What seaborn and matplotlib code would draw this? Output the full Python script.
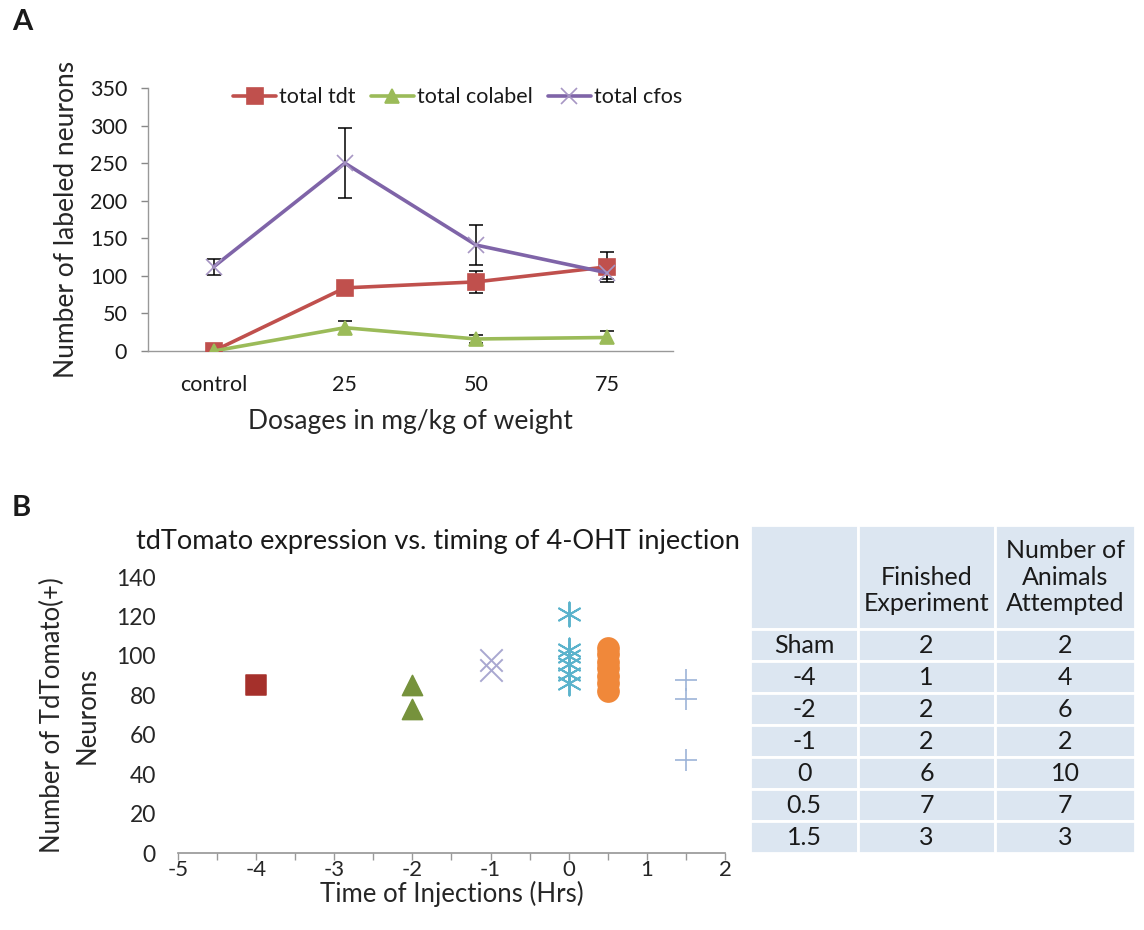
import matplotlib
matplotlib.use("Agg")
import matplotlib.pyplot as plt
import seaborn as sns
import numpy as np
import pandas as pd

# ---------------- Panel A data ----------------
dosages = ["control", "25", "50", "75"]
total_tdt = [0, 84, 92, 112]
total_tdt_err = [2, 5, 15, 20]
total_colabel = [0, 31, 16, 18]
total_colabel_err = [1, 9, 5, 8]
total_cfos = [112, 250, 141, 104]
total_cfos_err = [11, 47, 27, 8]

# ---------------- Panel B data ----------------
inj_times = [-4, -2, -1, 0, 0.5, 1.5]
counts_m4 = [85]
counts_m2 = [85, 73]
counts_m1 = [98, 93]
counts_0 = [121, 103, 100, 96, 91, 86]
counts_05 = [104, 101, 97, 94, 90, 86, 82]
counts_15 = [88, 78, 47]

# ---------------- Table data ----------------
table_header = ["", "\nFinished\nExperiment", "Number of\nAnimals\nAttempted"]
table_rows = ["Sham", "-4", "-2", "-1", "0", "0.5", "1.5"]
finished = [2, 1, 2, 2, 6, 7, 3]
attempted = [2, 4, 6, 2, 10, 7, 3]

sns.set_theme(style="white")
plt.rcParams['font.family'] = ['Lato', 'DejaVu Sans']
plt.rcParams['text.color'] = '#1a1a1a'
plt.rcParams['axes.unicode_minus'] = False

W, H = 1144, 930
fig = plt.figure(figsize=(W / 100, H / 100), dpi=100)

def fx(px):
    return px / W

def fy(py):
    return 1 - py / H

# ================= Panel A =================
axA = fig.add_axes([fx(148), fy(351), fx(673) - fx(148), fy(88) - fy(351)])
xpos = np.arange(len(dosages))
dfA = pd.DataFrame({
    "x": np.tile(xpos, 3),
    "value": total_tdt + total_colabel + total_cfos,
    "err": total_tdt_err + total_colabel_err + total_cfos_err,
    "series": ["total tdt"] * 4 + ["total colabel"] * 4 + ["total cfos"] * 4,
})
palA = {"total tdt": "#C0504D", "total colabel": "#9BBB59", "total cfos": "#7F64A8"}
markA = {"total tdt": "s", "total colabel": "^", "total cfos": "x"}
msA = {"total tdt": 11, "total colabel": 10, "total cfos": 11}
for name in ["total tdt", "total colabel", "total cfos"]:
    sub = dfA[dfA.series == name]
    axA.errorbar(sub.x, sub.value, yerr=sub.err, fmt='none', ecolor='black',
                 elinewidth=1.1, capsize=5, capthick=1.1, zorder=2)
for name in ["total tdt", "total colabel", "total cfos"]:
    sub = dfA[dfA.series == name]
    sns.lineplot(data=sub, x="x", y="value", ax=axA, color=palA[name],
                 marker=markA[name], markersize=msA[name], linewidth=2.6,
                 markeredgecolor=palA[name] if name != "total cfos" else "#A796C4",
                 markeredgewidth=1.2, label=name, zorder=3)

axA.set_xlim(-0.5, 3.5)
axA.set_ylim(0, 350)
axA.set_yticks(np.arange(0, 351, 50))
axA.set_xticks(xpos)
axA.set_xticklabels(dosages)
axA.set_xticks(np.arange(-0.5, 3.6, 1), minor=True)
axA.tick_params(axis='x', which='major', length=0, labelsize=15.5, pad=17, colors='#1a1a1a')
axA.tick_params(axis='x', which='minor', length=6, width=1, color='#888888', direction='out')
axA.tick_params(axis='y', which='major', length=5, width=1, color='#888888', left=True,
                labelsize=15.5, pad=10, labelcolor='#1a1a1a')
for s in ['top', 'right']:
    axA.spines[s].set_visible(False)
for s in ['left', 'bottom']:
    axA.spines[s].set_color('#999999')
    axA.spines[s].set_linewidth(1)
axA.set_xlabel("Dosages in mg/kg of weight", fontsize=19, labelpad=10)
axA.set_ylabel("Number of labeled neurons", fontsize=19, labelpad=8)
axA.legend(loc='center', bbox_to_anchor=(0.59, 0.965), ncol=3, frameon=False,
           fontsize=15.5, handlelength=2.0, columnspacing=0.7, handletextpad=0.15,
           borderaxespad=0)

fig.text(fx(12), fy(22), "A", fontsize=21, fontweight='bold', va='center', ha='left')
fig.text(fx(12), fy(508), "B", fontsize=21, fontweight='bold', va='center', ha='left')

# ================= Panel B =================
axB = fig.add_axes([fx(178), fy(853), fx(725) - fx(178), fy(577) - fy(853)])
groups = [counts_m4, counts_m2, counts_m1, counts_0, counts_05, counts_15]
dfB = pd.DataFrame({
    "time": np.concatenate([[t] * len(g) for t, g in zip(inj_times, groups)]),
    "count": np.concatenate(groups),
})
stylesB = {
    -4: dict(marker='s', color='#A5302B', s=190),
    -2: dict(marker='^', color='#76923C', s=210),
    -1: dict(marker='x', color='#A9A8D0', s=260, linewidths=1.4),
    0: dict(marker=(6, 2, 0), color='#5BB3CC', s=300, linewidths=1.4),
    0.5: dict(marker='o', color='#F0883A', s=230),
    1.5: dict(marker='+', color='#9DB4D8', s=260, linewidths=1.2),
}
for t in inj_times:
    sub = dfB[dfB.time == t]
    st = dict(stylesB[t])
    line_art = st['marker'] in ('x', '+') or isinstance(st['marker'], tuple)
    sns.scatterplot(data=sub, x="time", y="count", ax=axB,
                    edgecolor=None if line_art else st['color'],
                    legend=False, zorder=3, **st)

axB.set_xlim(-5, 2)
axB.set_ylim(0, 140)
axB.set_yticks(np.arange(0, 141, 20))
axB.set_xticks(np.arange(-5, 2.1, 1))
axB.set_xticks(np.arange(-5, 2.1, 0.5), minor=True)
axB.tick_params(axis='x', which='both', length=5, width=1, color='#999999', direction='out',
                labelsize=16, pad=0, bottom=True)
axB.tick_params(axis='y', length=0, labelsize=16.5, pad=16)
for s in ['top', 'right', 'left']:
    axB.spines[s].set_visible(False)
axB.spines['bottom'].set_color('#999999')
axB.set_xlabel("Time of Injections (Hrs)", fontsize=18.5, labelpad=1)
axB.set_ylabel("Number of TdTomato(+)\nNeurons", fontsize=18.5, labelpad=12, linespacing=1.45)
axB.set_title("tdTomato expression vs. timing of 4-OHT injection", fontsize=19.5,
              x=0.475, y=1.0, pad=20)

# ================= Table =================
axT = fig.add_axes([fx(750), fy(853), fx(1135) - fx(750), fy(525) - fy(853)])
axT.set_axis_off()
cell_text = [[r, str(f), str(a)] for r, f, a in zip(table_rows, finished, attempted)]
tbl = axT.table(cellText=cell_text, colLabels=table_header, cellLoc='center',
                colWidths=[108, 137, 140], bbox=[0, 0, 1, 1])
tbl.auto_set_font_size(False)
tbl.set_fontsize(18)
for (r, c), cell in tbl.get_celld().items():
    cell.set_facecolor('#DCE6F1')
    cell.set_edgecolor('white')
    cell.set_linewidth(2)
    cell.set_height(3.25 if r == 0 else 1.0)
    cell.get_text().set_color('#1a1a1a')
    if r == 0:
        cell.get_text().set_linespacing(1.2)

fig.savefig("out.png", dpi=100, facecolor='white')
